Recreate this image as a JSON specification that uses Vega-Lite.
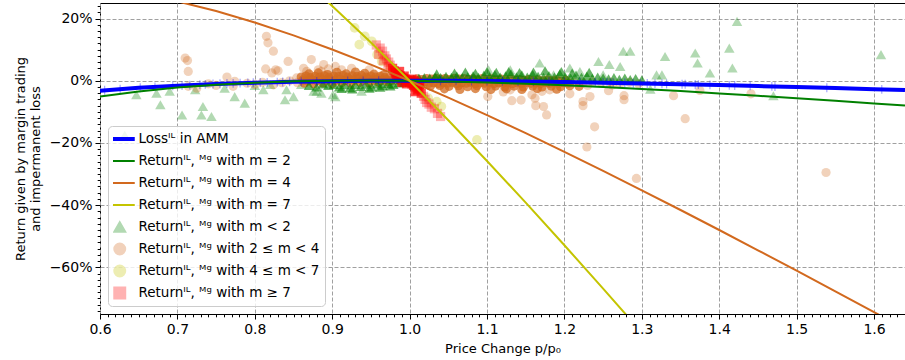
{
 "$schema": "https://vega.github.io/schema/vega-lite/v6.json",
 "width": 805, "height": 311,
 "autosize": {"type": "none"},
 "padding": {"left": 100, "top": 3, "right": 0, "bottom": 46},
 "config": {
  "font": "DejaVu Sans",
  "view": {"stroke": "#000000", "strokeWidth": 1},
  "axis": {"domain": false, "tickColor": "#000", "tickWidth": 1, "labelColor": "#000", "titleColor": "#000", "labelFontSize": 14, "titleFontSize": 13, "titleFontWeight": "normal", "gridColor": "#a0a0a0", "gridDash": [4, 2], "gridWidth": 1, "labelFont": "DejaVu Sans", "titleFont": "DejaVu Sans", "labelOverlap": false, "labelFlush": false}
 },
 "datasets": {
  "tri": [
   {"g":"P1","x":0.632,"y":-0.175},{"g":"P1","x":0.647,"y":-0.045},{"g":"P1","x":0.673,"y":-0.040},{"g":"P1","x":0.678,"y":-0.077},{"g":"P1","x":0.690,"y":-0.034},{"g":"P1","x":0.706,"y":-0.110},{"g":"P1","x":0.723,"y":-0.029},{"g":"P1","x":0.731,"y":-0.110},{"g":"P1","x":0.733,"y":-0.083},{"g":"P1","x":0.744,"y":-0.115},{"g":"P1","x":0.761,"y":-0.024},{"g":"P1","x":0.774,"y":-0.051},{"g":"P1","x":0.787,"y":-0.072},{"g":"P1","x":0.800,"y":-0.015},{"g":"P1","x":0.811,"y":-0.029},{"g":"P1","x":0.820,"y":-0.012},{"g":"P1","x":0.839,"y":-0.061},{"g":"P1","x":0.841,"y":-0.029},{"g":"P1","x":0.850,"y":-0.051},{"g":"P1","x":0.860,"y":-0.012},{"g":"P1","x":0.876,"y":-0.034},{"g":"P1","x":0.880,"y":-0.034},{"g":"P1","x":0.886,"y":-0.040},{"g":"P1","x":0.901,"y":-0.045},{"g":"P1","x":0.904,"y":-0.051},{"g":"P1","x":0.938,"y":-0.034},
   {"g":"P1","x":1.102,"y":0.035},{"g":"P1","x":1.130,"y":0.035},{"g":"P1","x":1.168,"y":0.057},{"g":"P1","x":1.186,"y":0.019},{"g":"P1","x":1.207,"y":0.041},{"g":"P1","x":1.220,"y":0.030},{"g":"P1","x":1.244,"y":0.062},{"g":"P1","x":1.250,"y":0.019},{"g":"P1","x":1.258,"y":0.052},{"g":"P1","x":1.272,"y":0.046},{"g":"P1","x":1.276,"y":0.095},{"g":"P1","x":1.285,"y":0.095},{"g":"P1","x":1.311,"y":-0.027},{"g":"P1","x":1.319,"y":0.019},{"g":"P1","x":1.326,"y":0.019},{"g":"P1","x":1.330,"y":0.078},{"g":"P1","x":1.369,"y":0.089},{"g":"P1","x":1.372,"y":0.057},{"g":"P1","x":1.388,"y":0.025},{"g":"P1","x":1.413,"y":0.105},{"g":"P1","x":1.417,"y":0.041},{"g":"P1","x":1.423,"y":0.191},{"g":"P1","x":1.470,"y":-0.048},{"g":"P1","x":1.609,"y":0.084}
  ],
  "triband": [
   {"g":"P1","x":0.870,"y":-0.015},{"g":"P1","x":0.880,"y":-0.020},{"g":"P1","x":0.888,"y":-0.010},{"g":"P1","x":0.895,"y":-0.015},{"g":"P1","x":0.902,"y":-0.012},{"g":"P1","x":0.909,"y":-0.020},{"g":"P1","x":0.912,"y":-0.025},{"g":"P1","x":0.916,"y":-0.013},{"g":"P1","x":0.923,"y":-0.022},{"g":"P1","x":0.926,"y":-0.026},{"g":"P1","x":0.930,"y":-0.012},{"g":"P1","x":0.937,"y":-0.018},{"g":"P1","x":0.944,"y":-0.011},{"g":"P1","x":0.948,"y":-0.024},{"g":"P1","x":0.951,"y":-0.020},{"g":"P1","x":0.958,"y":-0.010},{"g":"P1","x":0.962,"y":-0.021},{"g":"P1","x":0.965,"y":-0.016},{"g":"P1","x":0.972,"y":-0.009},{"g":"P1","x":0.975,"y":-0.017},{"g":"P1","x":0.979,"y":-0.012},{"g":"P1","x":0.986,"y":-0.007},{"g":"P1","x":0.993,"y":-0.005},
   {"g":"P1","x":1.005,"y":0.004},{"g":"P1","x":1.012,"y":0.008},{"g":"P1","x":1.019,"y":0.010},{"g":"P1","x":1.026,"y":0.009},{"g":"P1","x":1.033,"y":0.012},{"g":"P1","x":1.040,"y":0.010},{"g":"P1","x":1.047,"y":0.014},{"g":"P1","x":1.054,"y":0.011},{"g":"P1","x":1.061,"y":0.015},{"g":"P1","x":1.068,"y":0.010},{"g":"P1","x":1.075,"y":0.013},{"g":"P1","x":1.082,"y":0.016},{"g":"P1","x":1.089,"y":0.011},{"g":"P1","x":1.096,"y":0.018},{"g":"P1","x":1.103,"y":0.012},{"g":"P1","x":1.110,"y":0.020},{"g":"P1","x":1.117,"y":0.012},{"g":"P1","x":1.124,"y":0.016},{"g":"P1","x":1.131,"y":0.022},{"g":"P1","x":1.138,"y":0.013},{"g":"P1","x":1.145,"y":0.019},{"g":"P1","x":1.152,"y":0.012},{"g":"P1","x":1.159,"y":0.020},{"g":"P1","x":1.166,"y":0.014},{"g":"P1","x":1.173,"y":0.011},{"g":"P1","x":1.180,"y":0.017},{"g":"P1","x":1.187,"y":0.012},{"g":"P1","x":1.194,"y":0.022},{"g":"P1","x":1.201,"y":0.013},{"g":"P1","x":1.208,"y":0.009},{"g":"P1","x":1.215,"y":0.018},{"g":"P1","x":1.222,"y":0.011},{"g":"P1","x":1.229,"y":0.015},{"g":"P1","x":1.236,"y":0.008},{"g":"P1","x":1.243,"y":0.012},{"g":"P1","x":1.250,"y":0.009},{"g":"P1","x":1.257,"y":0.006},{"g":"P1","x":1.264,"y":0.010},{"g":"P1","x":1.271,"y":0.005},{"g":"P1","x":1.278,"y":0.009},{"g":"P1","x":1.285,"y":0.004},{"g":"P1","x":1.292,"y":0.007},{"g":"P1","x":1.300,"y":0.003},
   {"g":"P1","x":1.035,"y":0.022},{"g":"P1","x":1.058,"y":0.025},{"g":"P1","x":1.072,"y":0.028},{"g":"P1","x":1.085,"y":0.024},{"g":"P1","x":1.100,"y":0.030},{"g":"P1","x":1.112,"y":0.027},{"g":"P1","x":1.128,"y":0.030},{"g":"P1","x":1.142,"y":0.026},{"g":"P1","x":1.160,"y":0.028},{"g":"P1","x":1.175,"y":0.032},{"g":"P1","x":1.196,"y":0.030},{"g":"P1","x":1.210,"y":0.025},{"g":"P1","x":1.232,"y":0.027}
  ],
  "org": [
   {"g":"P2","x":0.710,"y":0.073},{"g":"P2","x":0.713,"y":0.065},{"g":"P2","x":0.714,"y":0.030},{"g":"P2","x":0.714,"y":-0.018},{"g":"P2","x":0.725,"y":-0.024},{"g":"P2","x":0.740,"y":-0.010},{"g":"P2","x":0.750,"y":-0.015},{"g":"P2","x":0.764,"y":0.012},{"g":"P2","x":0.772,"y":-0.018},{"g":"P2","x":0.774,"y":-0.002},{"g":"P2","x":0.790,"y":-0.008},{"g":"P2","x":0.800,"y":-0.012},{"g":"P2","x":0.810,"y":-0.005},{"g":"P2","x":0.815,"y":0.143},{"g":"P2","x":0.817,"y":0.122},{"g":"P2","x":0.824,"y":0.095},{"g":"P2","x":0.814,"y":0.038},{"g":"P2","x":0.827,"y":0.035},{"g":"P2","x":0.830,"y":0.032},{"g":"P2","x":0.822,"y":0.025},{"g":"P2","x":0.824,"y":-0.013},{"g":"P2","x":0.835,"y":-0.006},{"g":"P2","x":0.843,"y":0.062},{"g":"P2","x":0.845,"y":0.000},{"g":"P2","x":0.854,"y":0.009},{"g":"P2","x":0.855,"y":-0.006},{"g":"P2","x":0.867,"y":0.030},{"g":"P2","x":0.873,"y":0.068},{"g":"P2","x":0.882,"y":0.035},{"g":"P2","x":0.886,"y":0.030},{"g":"P2","x":0.889,"y":0.052},{"g":"P2","x":0.904,"y":0.046},
   {"g":"P2","x":0.863,"y":0.040},{"g":"P2","x":0.895,"y":0.038},{"g":"P2","x":0.912,"y":0.035},{"g":"P2","x":0.925,"y":0.040},{"g":"P2","x":0.948,"y":0.035},
   {"g":"P2","x":1.212,"y":-0.004},{"g":"P2","x":1.224,"y":-0.007},{"g":"P2","x":1.236,"y":-0.003},{"g":"P2","x":1.248,"y":-0.008},{"g":"P2","x":1.260,"y":-0.004},{"g":"P2","x":1.272,"y":-0.009},{"g":"P2","x":1.284,"y":-0.005},{"g":"P2","x":1.296,"y":-0.010},{"g":"P2","x":1.230,"y":-0.015},{"g":"P2","x":1.262,"y":-0.014},
   {"g":"P2","x":1.101,"y":-0.051},{"g":"P2","x":1.121,"y":-0.036},{"g":"P2","x":1.130,"y":-0.029},{"g":"P2","x":1.132,"y":-0.064},{"g":"P2","x":1.144,"y":-0.062},{"g":"P2","x":1.158,"y":-0.045},{"g":"P2","x":1.162,"y":-0.056},{"g":"P2","x":1.163,"y":-0.080},{"g":"P2","x":1.171,"y":-0.034},{"g":"P2","x":1.173,"y":-0.083},{"g":"P2","x":1.177,"y":-0.110},{"g":"P2","x":1.181,"y":-0.029},{"g":"P2","x":1.207,"y":-0.042},{"g":"P2","x":1.224,"y":-0.067},{"g":"P2","x":1.224,"y":-0.080},{"g":"P2","x":1.229,"y":-0.213},{"g":"P2","x":1.233,"y":-0.051},{"g":"P2","x":1.239,"y":-0.148},{"g":"P2","x":1.257,"y":-0.032},{"g":"P2","x":1.277,"y":-0.048},{"g":"P2","x":1.277,"y":-0.061},{"g":"P2","x":1.293,"y":-0.314},{"g":"P2","x":1.341,"y":-0.048},{"g":"P2","x":1.356,"y":-0.122},{"g":"P2","x":1.375,"y":-0.031},{"g":"P2","x":1.441,"y":-0.042},{"g":"P2","x":1.538,"y":-0.295}
  ],
  "orgband": [
   {"g":"P2","x":0.870,"y":0.022},{"g":"P2","x":0.882,"y":0.025},{"g":"P2","x":0.894,"y":0.020},{"g":"P2","x":0.906,"y":0.027},{"g":"P2","x":0.918,"y":0.022},{"g":"P2","x":0.930,"y":0.028},{"g":"P2","x":0.942,"y":0.024},{"g":"P2","x":0.954,"y":0.021},{"g":"P2","x":0.966,"y":0.018},
   {"g":"P2","x":0.860,"y":0.012},{"g":"P2","x":0.866,"y":0.015},{"g":"P2","x":0.872,"y":0.010},{"g":"P2","x":0.878,"y":0.014},{"g":"P2","x":0.884,"y":0.012},{"g":"P2","x":0.890,"y":0.016},{"g":"P2","x":0.896,"y":0.011},{"g":"P2","x":0.902,"y":0.015},{"g":"P2","x":0.908,"y":0.013},{"g":"P2","x":0.914,"y":0.017},{"g":"P2","x":0.920,"y":0.012},{"g":"P2","x":0.926,"y":0.016},{"g":"P2","x":0.932,"y":0.013},{"g":"P2","x":0.938,"y":0.017},{"g":"P2","x":0.944,"y":0.012},{"g":"P2","x":0.950,"y":0.015},{"g":"P2","x":0.956,"y":0.012},{"g":"P2","x":0.962,"y":0.014},{"g":"P2","x":0.968,"y":0.010},{"g":"P2","x":0.974,"y":0.012},{"g":"P2","x":0.980,"y":0.008},{"g":"P2","x":0.986,"y":0.007},{"g":"P2","x":0.992,"y":0.004},
   {"g":"P2","x":0.862,"y":0.002},{"g":"P2","x":0.868,"y":-0.001},{"g":"P2","x":0.874,"y":0.003},{"g":"P2","x":0.880,"y":0.000},{"g":"P2","x":0.886,"y":0.004},{"g":"P2","x":0.892,"y":0.001},{"g":"P2","x":0.898,"y":0.005},{"g":"P2","x":0.904,"y":0.001},{"g":"P2","x":0.910,"y":0.004},{"g":"P2","x":0.916,"y":0.000},{"g":"P2","x":0.922,"y":0.005},{"g":"P2","x":0.928,"y":0.002},{"g":"P2","x":0.934,"y":0.006},{"g":"P2","x":0.940,"y":0.002},{"g":"P2","x":0.946,"y":0.005},{"g":"P2","x":0.952,"y":0.001},{"g":"P2","x":0.958,"y":0.004},{"g":"P2","x":0.964,"y":0.001},{"g":"P2","x":0.970,"y":0.003},{"g":"P2","x":0.976,"y":0.000},{"g":"P2","x":0.982,"y":0.002},{"g":"P2","x":0.988,"y":0.000},{"g":"P2","x":0.996,"y":0.001},
   {"g":"P2","x":0.864,"y":-0.008},{"g":"P2","x":0.876,"y":-0.010},{"g":"P2","x":0.888,"y":-0.007},{"g":"P2","x":0.900,"y":-0.009},{"g":"P2","x":0.912,"y":-0.006},{"g":"P2","x":0.924,"y":-0.008},{"g":"P2","x":0.936,"y":-0.005},{"g":"P2","x":0.948,"y":-0.007},{"g":"P2","x":0.960,"y":-0.005},{"g":"P2","x":0.972,"y":-0.004},
   {"g":"P2","x":1.004,"y":0.003},{"g":"P2","x":1.010,"y":0.006},{"g":"P2","x":1.016,"y":0.004},{"g":"P2","x":1.022,"y":0.007},{"g":"P2","x":1.028,"y":0.005},{"g":"P2","x":1.034,"y":0.008},{"g":"P2","x":1.040,"y":0.005},{"g":"P2","x":1.046,"y":0.007},{"g":"P2","x":1.052,"y":0.004},{"g":"P2","x":1.058,"y":0.008},{"g":"P2","x":1.064,"y":0.005},{"g":"P2","x":1.070,"y":0.007},{"g":"P2","x":1.076,"y":0.004},{"g":"P2","x":1.082,"y":0.006},{"g":"P2","x":1.088,"y":0.003},{"g":"P2","x":1.094,"y":0.007},{"g":"P2","x":1.100,"y":0.004},{"g":"P2","x":1.106,"y":0.006},{"g":"P2","x":1.112,"y":0.003},{"g":"P2","x":1.118,"y":0.005},{"g":"P2","x":1.124,"y":0.002},{"g":"P2","x":1.130,"y":0.005},{"g":"P2","x":1.136,"y":0.002},{"g":"P2","x":1.142,"y":0.004},{"g":"P2","x":1.148,"y":0.001},{"g":"P2","x":1.154,"y":0.004},{"g":"P2","x":1.160,"y":0.001},{"g":"P2","x":1.166,"y":0.003},{"g":"P2","x":1.172,"y":0.000},{"g":"P2","x":1.178,"y":0.003},{"g":"P2","x":1.184,"y":0.000},{"g":"P2","x":1.190,"y":0.002},{"g":"P2","x":1.196,"y":-0.001},{"g":"P2","x":1.202,"y":0.001},
   {"g":"P2","x":1.007,"y":-0.004},{"g":"P2","x":1.013,"y":-0.006},{"g":"P2","x":1.019,"y":-0.005},{"g":"P2","x":1.025,"y":-0.008},{"g":"P2","x":1.031,"y":-0.006},{"g":"P2","x":1.037,"y":-0.009},{"g":"P2","x":1.043,"y":-0.006},{"g":"P2","x":1.049,"y":-0.008},{"g":"P2","x":1.055,"y":-0.005},{"g":"P2","x":1.061,"y":-0.009},{"g":"P2","x":1.067,"y":-0.006},{"g":"P2","x":1.073,"y":-0.008},{"g":"P2","x":1.079,"y":-0.005},{"g":"P2","x":1.085,"y":-0.009},{"g":"P2","x":1.091,"y":-0.006},{"g":"P2","x":1.097,"y":-0.008},{"g":"P2","x":1.103,"y":-0.005},{"g":"P2","x":1.109,"y":-0.009},{"g":"P2","x":1.115,"y":-0.006},{"g":"P2","x":1.121,"y":-0.008},{"g":"P2","x":1.127,"y":-0.006},{"g":"P2","x":1.133,"y":-0.009},{"g":"P2","x":1.139,"y":-0.006},{"g":"P2","x":1.145,"y":-0.008},{"g":"P2","x":1.151,"y":-0.005},{"g":"P2","x":1.157,"y":-0.008},{"g":"P2","x":1.163,"y":-0.006},{"g":"P2","x":1.169,"y":-0.009},{"g":"P2","x":1.175,"y":-0.006},{"g":"P2","x":1.181,"y":-0.008},{"g":"P2","x":1.187,"y":-0.005},{"g":"P2","x":1.193,"y":-0.008},{"g":"P2","x":1.199,"y":-0.006},{"g":"P2","x":1.205,"y":-0.008},
   {"g":"P2","x":1.015,"y":-0.014},{"g":"P2","x":1.027,"y":-0.017},{"g":"P2","x":1.039,"y":-0.015},{"g":"P2","x":1.051,"y":-0.018},{"g":"P2","x":1.063,"y":-0.016},{"g":"P2","x":1.075,"y":-0.019},{"g":"P2","x":1.087,"y":-0.016},{"g":"P2","x":1.099,"y":-0.019},{"g":"P2","x":1.111,"y":-0.017},{"g":"P2","x":1.123,"y":-0.020},{"g":"P2","x":1.135,"y":-0.017},{"g":"P2","x":1.147,"y":-0.020},{"g":"P2","x":1.159,"y":-0.017},{"g":"P2","x":1.171,"y":-0.020},{"g":"P2","x":1.183,"y":-0.017},{"g":"P2","x":1.195,"y":-0.019},{"g":"P2","x":1.207,"y":-0.016},{"g":"P2","x":1.219,"y":-0.018},
   {"g":"P2","x":1.045,"y":-0.026},{"g":"P2","x":1.065,"y":-0.028},{"g":"P2","x":1.085,"y":-0.025},{"g":"P2","x":1.105,"y":-0.028},{"g":"P2","x":1.125,"y":-0.026},{"g":"P2","x":1.145,"y":-0.028},{"g":"P2","x":1.165,"y":-0.025},{"g":"P2","x":1.190,"y":-0.027}
  ],
  "yel": [
   {"g":"P3","x":0.929,"y":0.170},{"g":"P3","x":0.942,"y":0.143},{"g":"P3","x":0.935,"y":0.116},{"g":"P3","x":0.951,"y":0.127},{"g":"P3","x":0.958,"y":0.084},{"g":"P3","x":0.964,"y":0.062},{"g":"P3","x":0.975,"y":0.040},{"g":"P3","x":0.985,"y":0.020},{"g":"P3","x":1.008,"y":-0.020},{"g":"P3","x":1.024,"y":-0.056},{"g":"P3","x":1.035,"y":-0.067},{"g":"P3","x":1.041,"y":-0.083},{"g":"P3","x":1.087,"y":-0.190}
  ],
  "red": [
   {"g":"P4","x":0.957,"y":0.115},{"g":"P4","x":0.962,"y":0.105},{"g":"P4","x":0.965,"y":0.095},{"g":"P4","x":0.960,"y":0.085},{"g":"P4","x":0.968,"y":0.080},{"g":"P4","x":0.970,"y":0.070},{"g":"P4","x":0.966,"y":0.065},{"g":"P4","x":0.973,"y":0.060},{"g":"P4","x":0.975,"y":0.050},{"g":"P4","x":0.972,"y":0.045},
   {"g":"P4","x":1.018,"y":-0.050},{"g":"P4","x":1.020,"y":-0.060},{"g":"P4","x":1.022,"y":-0.070},{"g":"P4","x":1.025,"y":-0.075},{"g":"P4","x":1.028,"y":-0.085},{"g":"P4","x":1.032,"y":-0.090},{"g":"P4","x":1.036,"y":-0.105},{"g":"P4","x":1.040,"y":-0.115}
  ],
  "redcore": [
   {"g":"P4","x":0.978,"y":0.040},{"g":"P4","x":0.980,"y":0.032},{"g":"P4","x":0.982,"y":0.025},{"g":"P4","x":0.985,"y":0.020},{"g":"P4","x":0.988,"y":0.015},{"g":"P4","x":0.990,"y":0.010},{"g":"P4","x":0.992,"y":0.008},{"g":"P4","x":0.995,"y":0.005},{"g":"P4","x":0.997,"y":0.000},{"g":"P4","x":0.993,"y":0.015},{"g":"P4","x":0.987,"y":0.030},{"g":"P4","x":0.983,"y":0.010},{"g":"P4","x":0.990,"y":-0.005},{"g":"P4","x":0.996,"y":-0.010},
   {"g":"P4","x":1.000,"y":-0.005},{"g":"P4","x":1.003,"y":-0.010},{"g":"P4","x":1.005,"y":-0.015},{"g":"P4","x":1.008,"y":-0.020},{"g":"P4","x":1.010,"y":-0.030},{"g":"P4","x":1.007,"y":-0.035},{"g":"P4","x":1.012,"y":-0.025},{"g":"P4","x":1.015,"y":-0.040},{"g":"P4","x":1.003,"y":0.005},{"g":"P4","x":1.006,"y":0.000},{"g":"P4","x":1.010,"y":-0.005},{"g":"P4","x":1.013,"y":-0.010}
  ],
  "ticks": [
   {"x":0.606,"y":-0.0306},{"x":0.626,"y":-0.027},{"x":0.652,"y":-0.0225},{"x":0.671,"y":-0.0197},{"x":0.694,"y":-0.0165},{"x":0.706,"y":-0.0151},{"x":0.716,"y":-0.014},{"x":0.729,"y":-0.0125},{"x":0.736,"y":-0.0117},{"x":0.746,"y":-0.0107},{"x":0.755,"y":-0.0099},{"x":0.764,"y":-0.0091},{"x":0.772,"y":-0.0084},{"x":0.781,"y":-0.0077},{"x":0.791,"y":-0.0069},{"x":0.798,"y":-0.0063},{"x":0.807,"y":-0.0058},{"x":0.816,"y":-0.0052},{"x":0.829,"y":-0.0045},{"x":0.836,"y":-0.0041},{"x":0.845,"y":-0.0035},
   {"x":0.86,"y":-0.0028},{"x":0.88,"y":-0.002},{"x":0.90,"y":-0.0014},{"x":0.92,"y":-0.0009},{"x":0.94,"y":-0.0005},{"x":0.96,"y":-0.0002},{"x":1.04,"y":-0.0002},{"x":1.06,"y":-0.0004},{"x":1.08,"y":-0.0008},{"x":1.10,"y":-0.0011},{"x":1.12,"y":-0.0016},{"x":1.14,"y":-0.0021},{"x":1.16,"y":-0.0027},{"x":1.18,"y":-0.0034},{"x":1.20,"y":-0.0041},{"x":1.22,"y":-0.0049},{"x":1.24,"y":-0.0058},
   {"x":1.250,"y":-0.0062},{"x":1.255,"y":-0.0064},{"x":1.259,"y":-0.0066},{"x":1.263,"y":-0.0068},{"x":1.272,"y":-0.0072},{"x":1.278,"y":-0.0075},{"x":1.289,"y":-0.008},{"x":1.298,"y":-0.0084},{"x":1.307,"y":-0.0088},{"x":1.317,"y":-0.0093},{"x":1.326,"y":-0.0099},{"x":1.332,"y":-0.0102},{"x":1.352,"y":-0.0113},{"x":1.356,"y":-0.0115},{"x":1.369,"y":-0.0122},{"x":1.373,"y":-0.0125},{"x":1.388,"y":-0.0133},{"x":1.413,"y":-0.0148},{"x":1.420,"y":-0.0152},{"x":1.440,"y":-0.0164},{"x":1.468,"y":-0.0181},{"x":1.472,"y":-0.0183},{"x":1.539,"y":-0.0228},{"x":1.610,"y":-0.0277}
  ],
  "lines": [
   {"g":"L1","x":0.60,"y":-0.0318},{"g":"L1","x":0.65,"y":-0.0228},{"g":"L1","x":0.70,"y":-0.0157},{"g":"L1","x":0.75,"y":-0.0103},{"g":"L1","x":0.80,"y":-0.0062},{"g":"L1","x":0.85,"y":-0.0033},{"g":"L1","x":0.90,"y":-0.0014},{"g":"L1","x":0.95,"y":-0.0003},{"g":"L1","x":1.00,"y":0},{"g":"L1","x":1.05,"y":-0.0003},{"g":"L1","x":1.10,"y":-0.0011},{"g":"L1","x":1.15,"y":-0.0024},{"g":"L1","x":1.20,"y":-0.0041},{"g":"L1","x":1.25,"y":-0.0062},{"g":"L1","x":1.30,"y":-0.0085},{"g":"L1","x":1.35,"y":-0.0112},{"g":"L1","x":1.40,"y":-0.0140},{"g":"L1","x":1.45,"y":-0.0170},{"g":"L1","x":1.50,"y":-0.0202},{"g":"L1","x":1.55,"y":-0.0235},{"g":"L1","x":1.60,"y":-0.0270},{"g":"L1","x":1.64,"y":-0.0298},
   {"g":"L2","x":0.60,"y":-0.0509},{"g":"L2","x":0.65,"y":-0.0345},{"g":"L2","x":0.70,"y":-0.0219},{"g":"L2","x":0.75,"y":-0.0126},{"g":"L2","x":0.80,"y":-0.0061},{"g":"L2","x":0.85,"y":-0.0019},{"g":"L2","x":0.90,"y":0.0004},{"g":"L2","x":0.95,"y":0.0009},{"g":"L2","x":1.00,"y":0},{"g":"L2","x":1.05,"y":-0.0022},{"g":"L2","x":1.10,"y":-0.0054},{"g":"L2","x":1.15,"y":-0.0096},{"g":"L2","x":1.20,"y":-0.0146},{"g":"L2","x":1.25,"y":-0.0203},{"g":"L2","x":1.30,"y":-0.0265},{"g":"L2","x":1.35,"y":-0.0333},{"g":"L2","x":1.40,"y":-0.0406},{"g":"L2","x":1.45,"y":-0.0482},{"g":"L2","x":1.50,"y":-0.0562},{"g":"L2","x":1.55,"y":-0.0644},{"g":"L2","x":1.60,"y":-0.0729},{"g":"L2","x":1.64,"y":-0.0798},
   {"g":"L3","x":0.60,"y":0.297},{"g":"L3","x":0.65,"y":0.280},{"g":"L3","x":0.70,"y":0.2552},{"g":"L3","x":0.75,"y":0.224},{"g":"L3","x":0.80,"y":0.1872},{"g":"L3","x":0.85,"y":0.1458},{"g":"L3","x":0.90,"y":0.1005},{"g":"L3","x":0.95,"y":0.0517},{"g":"L3","x":1.00,"y":0},{"g":"L3","x":1.05,"y":-0.0542},{"g":"L3","x":1.10,"y":-0.1105},{"g":"L3","x":1.15,"y":-0.1687},{"g":"L3","x":1.20,"y":-0.2286},{"g":"L3","x":1.25,"y":-0.2898},{"g":"L3","x":1.30,"y":-0.3522},{"g":"L3","x":1.35,"y":-0.4156},{"g":"L3","x":1.40,"y":-0.4799},{"g":"L3","x":1.45,"y":-0.5451},{"g":"L3","x":1.50,"y":-0.6108},{"g":"L3","x":1.55,"y":-0.6771},{"g":"L3","x":1.60,"y":-0.744},{"g":"L3","x":1.64,"y":-0.7977},
   {"g":"L4","x":0.85,"y":0.352},{"g":"L4","x":0.88,"y":0.2857},{"g":"L4","x":0.90,"y":0.2403},{"g":"L4","x":0.95,"y":0.1227},{"g":"L4","x":1.00,"y":0},{"g":"L4","x":1.05,"y":-0.1271},{"g":"L4","x":1.10,"y":-0.2579},{"g":"L4","x":1.15,"y":-0.3921},{"g":"L4","x":1.20,"y":-0.529},{"g":"L4","x":1.25,"y":-0.6683},{"g":"L4","x":1.30,"y":-0.8098}
  ]
 },
 "encoding": {
  "x": {"field": "x", "type": "quantitative", "scale": {"domain": [0.6, 1.64], "nice": false, "zero": false},
   "axis": {"title": "Price Change p/p₀", "tickCount": 104, "grid": true,
    "labelExpr": "abs(datum.value*10-round(datum.value*10))<1e-6 ? format(datum.value,'.1f') : ''",
    "tickSize": {"condition": {"test": "abs(datum.value*10-round(datum.value*10))<1e-6", "value": 5}, "value": 2.8},
    "gridOpacity": {"condition": {"test": "abs(datum.value*10-round(datum.value*10))<1e-6", "value": 1}, "value": 0},
    "labelPadding": 3, "titlePadding": 6}},
  "y": {"field": "y", "type": "quantitative", "scale": {"domain": [-0.75, 0.25], "nice": false, "zero": false},
   "axis": {"title": ["Return given by margin trading", "and impermanent loss"], "tickCount": 50, "grid": true, "titleLineHeight": 15,
    "labelExpr": "abs(datum.value*5-round(datum.value*5))<1e-6 ? format(datum.value,'.0%') : ''",
    "tickSize": {"condition": {"test": "abs(datum.value*5-round(datum.value*5))<1e-6", "value": 5}, "value": 2.8},
    "gridOpacity": {"condition": {"test": "abs(datum.value*5-round(datum.value*5))<1e-6", "value": 1}, "value": 0},
    "labelPadding": 3, "titlePadding": 7}},
  "color": {"field": "g", "type": "nominal",
   "scale": {"domain": ["L1","L2","L3","L4","P1","P2","P3","P4"], "range": ["#0000ff","#008000","#d2691e","#c4c400","#008000","#d2691e","#c4c400","#ff0000"]},
   "legend": {"orient": "none", "legendX": 8, "legendY": 123, "title": null, "symbolSize": 900, "clipHeight": 16, "rowPadding": 6, "padding": 5,
    "labelFontSize": 13.5, "labelFont": "DejaVu Sans", "labelColor": "#000", "labelLimit": 400, "labelOffset": 12,
    "fillColor": "rgba(255,255,255,0.8)", "strokeColor": "#cccccc", "cornerRadius": 4,
    "labelExpr": "datum.value=='L1' ? 'Lossᴵᴸ in AMM' : datum.value=='L2' ? 'Returnᴵᴸ, ᴹᵍ with m = 2' : datum.value=='L3' ? 'Returnᴵᴸ, ᴹᵍ with m = 4' : datum.value=='L4' ? 'Returnᴵᴸ, ᴹᵍ with m = 7' : datum.value=='P1' ? 'Returnᴵᴸ, ᴹᵍ with m < 2' : datum.value=='P2' ? 'Returnᴵᴸ, ᴹᵍ with 2 ≤ m < 4' : datum.value=='P3' ? 'Returnᴵᴸ, ᴹᵍ with 4 ≤ m < 7' : 'Returnᴵᴸ, ᴹᵍ with m ≥ 7'",
    "encode": {"symbols": {"update": {
     "shape": {"signal": "test(/^L/, datum.value) ? 'stroke' : datum.value=='P1' ? 'triangle-up' : datum.value=='P4' ? 'square' : 'circle'"},
     "size": {"signal": "test(/^L/, datum.value) ? 900 : 120"},
     "stroke": {"signal": "test(/^L/, datum.value) ? scale('color', datum.value) : 'transparent'"},
     "fill": {"signal": "test(/^L/, datum.value) ? 'transparent' : scale('color', datum.value)"},
     "strokeWidth": {"signal": "datum.value=='L1' ? 4 : 2"},
     "opacity": {"signal": "test(/^L/, datum.value) ? 1 : 0.3"}
    }}}
   }}
 },
 "layer": [
  {"data": {"name": "tri"}, "mark": {"type": "point", "filled": true, "opacity": 0.3, "size": 110, "strokeWidth": 0, "shape": "triangle-up"}},
  {"data": {"name": "org"}, "mark": {"type": "point", "filled": true, "opacity": 0.3, "size": 85, "strokeWidth": 0, "shape": "circle"}},
  {"data": {"name": "orgband"}, "mark": {"type": "point", "filled": true, "opacity": 0.75, "size": 85, "strokeWidth": 0, "shape": "circle"}},
  {"data": {"name": "triband"}, "mark": {"type": "point", "filled": true, "opacity": 0.6, "size": 110, "strokeWidth": 0, "shape": "triangle-up"}},
  {"data": {"name": "yel"}, "mark": {"type": "point", "filled": true, "opacity": 0.3, "size": 95, "strokeWidth": 0, "shape": "circle"}},
  {"data": {"name": "red"}, "mark": {"type": "point", "filled": true, "opacity": 0.3, "size": 85, "strokeWidth": 0, "shape": "square"}},
  {"data": {"name": "redcore"}, "mark": {"type": "point", "filled": true, "opacity": 0.7, "size": 85, "strokeWidth": 0, "shape": "square"}},
  {"data": {"name": "ticks"}, "mark": {"type": "point", "shape": "M0,-1L0,1", "filled": false, "opacity": 0.35, "size": 80, "strokeWidth": 1.2}, "encoding": {"color": {"value": "#0000ff"}}},
  {"data": {"name": "lines"}, "transform": [{"filter": "datum.g == 'L1'"}], "mark": {"type": "line", "strokeWidth": 4, "clip": true}},
  {"data": {"name": "lines"}, "transform": [{"filter": "datum.g != 'L1'"}], "mark": {"type": "line", "strokeWidth": 2, "clip": true}}
 ]
}
